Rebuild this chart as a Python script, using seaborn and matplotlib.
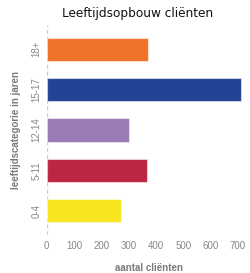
import matplotlib
matplotlib.use('Agg')
from matplotlib import pyplot as plt
import seaborn as sns
import pandas as pd

# data
categories = ['18+', '15-17', '12-14', '5-11', '0-4']
counts = [370, 710, 300, 367, 272]
bar_colors = ['#F07228', '#234397', '#9A7BB5', '#BD2642', '#F6E51F']
xticks = [0, 100, 200, 300, 400, 500, 600, 700]

sns.set_theme(style='white')
plt.rcParams['font.family'] = ['Liberation Sans', 'DejaVu Sans']

df = pd.DataFrame({'cat': categories, 'n': counts})

fig = plt.figure(figsize=(2.5, 2.73), dpi=100)
ax = fig.add_axes([0.1868, 0.1392, 0.819, 0.7692])

sns.barplot(data=df, x='n', y='cat', hue='cat', palette=bar_colors,
            order=categories, hue_order=categories, legend=False, saturation=1,
            orient='h', width=0.58, edgecolor=(1, 1, 1, 0.5), linewidth=0.8, ax=ax)

ax.axvline(0, color='#cccccc', linestyle=(0, (3, 2)), linewidth=1, zorder=0)
ax.set_xlim(0, 750)
ax.set_ylim(4.6, -0.6)
ax.set_xticks(xticks)
ax.set_xticklabels([str(t) for t in xticks])
for s in ax.spines.values():
    s.set_visible(False)
ax.tick_params(axis='both', length=0, labelsize=7, colors='#888888', pad=4)
plt.setp(ax.get_yticklabels(), rotation=90, va='center')

ax.set_xlabel('aantal cliënten', fontsize=7, fontweight='bold', color='#7a7a7a', labelpad=9)
ax.set_ylabel('leeftijdscategorie in jaren', fontsize=7, fontweight='bold', color='#7a7a7a', labelpad=7)

# title looks like a wider, Verdana-style face
fig.text(0.55, 1 - 13 / 273, 'Leeftijdsopbouw cliënten', ha='center', va='center',
         fontsize=8.7, color='#111111', family='DejaVu Sans')

fig.savefig('out.png', dpi=100)
